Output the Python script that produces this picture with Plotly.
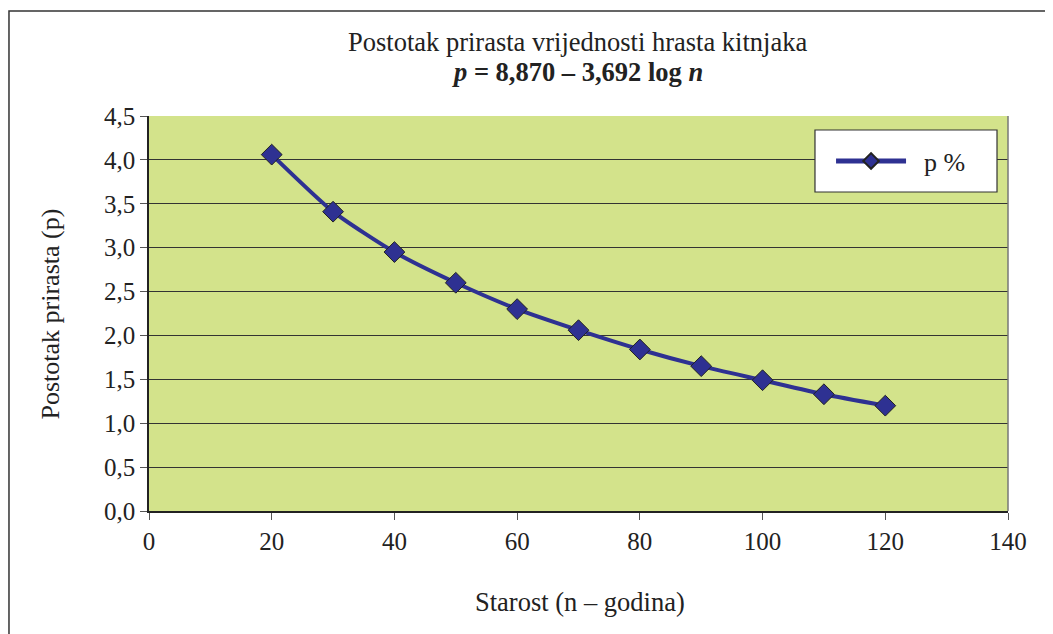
import plotly.graph_objects as go

starost = [20, 30, 40, 50, 60, 70, 80, 90, 100, 110, 120]
postotak = [4.06, 3.41, 2.95, 2.60, 2.30, 2.06, 1.84, 1.65, 1.49, 1.33, 1.20]
series_name = "p %"
y_ticks = [0, 0.5, 1.0, 1.5, 2.0, 2.5, 3.0, 3.5, 4.0, 4.5]
y_labels = ["0,0", "0,5", "1,0", "1,5", "2,0", "2,5", "3,0", "3,5", "4,0", "4,5"]
x_ticks = [0, 20, 40, 60, 80, 100, 120, 140]
title_line1 = "Postotak prirasta vrijednosti hrasta kitnjaka"
title_line2 = "<b><i>p</i> = 8,870 – 3,692 log <i>n</i></b>"
x_title = "Starost (n – godina)"
y_title = "Postotak prirasta (p)"

FONT = "Liberation Serif, Times New Roman, serif"
BLUE = "#2e3192"
TXT = "#222222"

fig = go.Figure()
fig.add_trace(go.Scatter(
    x=starost, y=postotak, name="\u00a0\u00a0" + series_name, mode="lines+markers",
    line=dict(color=BLUE, width=4, shape="spline", smoothing=0.6),
    marker=dict(symbol="diamond", size=16, color=BLUE,
                line=dict(color="#222222", width=1)),
))

fig.update_layout(
    width=1053, height=634,
    margin=dict(l=141, r=53, t=108, b=131),
    paper_bgcolor="white", plot_bgcolor="#d3e38b",
    font=dict(family=FONT, size=26, color=TXT),
    showlegend=True,
    legend=dict(
        x=0.794, xanchor="left", y=0.886, yanchor="middle",
        bgcolor="rgba(0,0,0,0)", borderwidth=0,
        font=dict(family=FONT, size=26, color=TXT),
        itemwidth=70, itemsizing="constant",
    ),
    xaxis=dict(
        range=[0, 140], tickvals=x_ticks, ticktext=[str(v) for v in x_ticks],
        showgrid=False, zeroline=False,
        showline=True, linecolor="#222222", linewidth=1.5,
        ticks="outside", ticklen=7, tickcolor="#555555",
        tickfont=dict(family=FONT, size=25, color=TXT),
    ),
    yaxis=dict(
        range=[0, 4.5], tickvals=y_ticks, ticktext=y_labels,
        showgrid=True, gridcolor="#333333", gridwidth=1,
        zeroline=False,
        showline=True, linecolor="#222222", linewidth=1.5,
        ticks="outside", ticklen=7, tickcolor="#555555",
        tickfont=dict(family=FONT, size=25, color=TXT),
    ),
    annotations=[
        dict(text=title_line1, xref="paper", yref="paper", x=0.4994, y=1.1873,
             xanchor="center", yanchor="middle", showarrow=False,
             font=dict(family=FONT, size=26.5, color=TXT)),
        dict(text=title_line2, xref="paper", yref="paper", x=0.4994, y=1.1114,
             xanchor="center", yanchor="middle", showarrow=False,
             font=dict(family=FONT, size=26.5, color=TXT)),
        dict(text=x_title, xref="paper", yref="paper", x=0.5017, y=-0.2304,
             xanchor="center", yanchor="middle", showarrow=False,
             font=dict(family=FONT, size=26.5, color=TXT)),
        dict(text=y_title, xref="paper", yref="paper", x=-0.1141, y=0.5,
             xanchor="center", yanchor="middle", showarrow=False, textangle=-90,
             font=dict(family=FONT, size=26, color=TXT)),
    ],
)

# right edge of plot area
fig.add_shape(type="line", xref="x domain", yref="y domain",
              x0=1, x1=1, y0=0, y1=1, line=dict(color="#777777", width=1.5))
# legend box
fig.add_shape(type="rect", xref="paper", yref="paper",
              x0=0.7753, x1=0.9872, y0=0.8076, y1=0.9646,
              fillcolor="white", line=dict(color="#333333", width=1.2),
              layer="above")
# outer chart border (left and top visible)
fig.add_shape(type="rect", xref="paper", yref="paper",
              x0=-0.1630, x1=1.2, y0=-0.4, y1=1.2658,
              line=dict(color="#333333", width=1.5), layer="above")

fig.write_html("out.html")
